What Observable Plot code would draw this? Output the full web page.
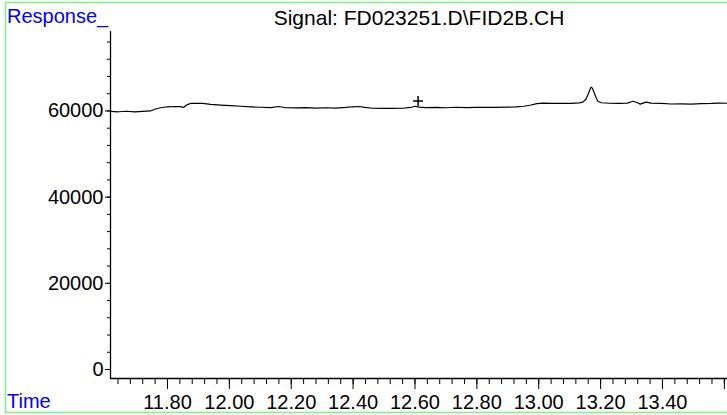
<!DOCTYPE html>
<html>
<head>
<meta charset="utf-8">
<script src="https://cdn.jsdelivr.net/npm/d3@7"></script>
<script src="https://cdn.jsdelivr.net/npm/@observablehq/plot@0.6"></script>
<style>
  html, body { margin: 0; padding: 0; background: #fff; }
  svg { display: block; }
</style>
</head>
<body>
<div id="chart"></div>
<script>
// Retention time (min)
const time = [
  11.616, 11.642, 11.668, 11.694, 11.719, 11.745, 11.761, 11.777, 11.800, 11.823,
  11.843, 11.852, 11.862, 11.875, 11.894, 11.914, 11.940, 11.972, 12.004, 12.037,
  12.069, 12.101, 12.134, 12.160, 12.182, 12.215, 12.247, 12.279, 12.312, 12.344,
  12.376, 12.399, 12.418, 12.438, 12.463, 12.496, 12.528, 12.561, 12.587, 12.600,
  12.613, 12.635, 12.668, 12.700, 12.732, 12.765, 12.797, 12.829, 12.862, 12.894,
  12.926, 12.952, 12.975, 12.994, 13.014, 13.040, 13.072, 13.105, 13.131, 13.144,
  13.153, 13.160, 13.166, 13.169, 13.173, 13.179, 13.186, 13.192, 13.202, 13.228,
  13.260, 13.286, 13.305, 13.318, 13.328, 13.347, 13.363, 13.396, 13.428, 13.460,
  13.493, 13.525, 13.557, 13.583, 13.610
];
// FID response
const response = [
  59880, 59810, 59930, 59790, 59910, 60000, 60460, 60740, 60970, 61040,
  61000, 60810, 61390, 61760, 61790, 61740, 61510, 61370, 61230, 61090,
  60950, 60860, 60770, 61040, 60740, 60700, 60770, 60680, 60740, 60680,
  60810, 60970, 61040, 60810, 60630, 60580, 60600, 60630, 60810, 61090,
  60900, 60770, 60810, 60740, 60860, 60770, 60810, 60860, 60810, 60900,
  60930, 61090, 61390, 61690, 61810, 61760, 61790, 61740, 61880, 62090,
  62780, 63940, 65100, 65500, 65340, 64290, 63020, 62200, 61900, 61790,
  61740, 61830, 62250, 61970, 61580, 62060, 61830, 61740, 61620, 61650,
  61600, 61690, 61740, 61830, 61790
];
// Integration marker
const markerTime = [12.610];
const markerValue = [62320];

const xMajorTicks = [11.8, 12.0, 12.2, 12.4, 12.6, 12.8, 13.0, 13.2, 13.4, 13.6];
const xTickLabels = ["11.80", "12.00", "12.20", "12.40", "12.60", "12.80", "13.00", "13.20", "13.40", ""];
const xMinorTicks = d3.range(0, 50).map(i => +(11.64 + i * 0.04).toFixed(2));
const yMajorTicks = [0, 20000, 40000, 60000];
const yMinorTicks = d3.range(0, 20).map(i => i * 4000);

const xDomain = [11.6158, 13.6102];
const yDomain = [-2090, 78440];

const data = time.map((t, i) => ({t, v: response[i]}));
const markers = markerTime.map((t, i) => ({t, v: markerValue[i]}));

const font = "'Liberation Sans', Arial, Helvetica, sans-serif";

const chart = Plot.plot({
  width: 727,
  height: 415,
  marginLeft: 110,
  marginRight: 0,
  marginTop: 31,
  marginBottom: 37,
  style: {fontFamily: font, fontSize: "20px", background: "#fff", overflow: "visible"},
  x: {domain: xDomain, range: [110, 727]},
  y: {domain: yDomain},
  marks: [
    Plot.axisY(yMinorTicks, {tickSize: 3, tickFormat: () => "", label: null, stroke: "#000"}),
    Plot.axisY(yMajorTicks, {tickSize: 5, tickPadding: 2, tickFormat: d => String(d), label: null, fontSize: 20, fill: "#000", stroke: "#000"}),
    Plot.axisX(xMinorTicks, {tickSize: 6, tickFormat: () => "", label: null, stroke: "#000"}),
    Plot.axisX(xMajorTicks, {tickSize: 11, tickPadding: 5, tickFormat: (d, i) => xTickLabels[i], label: null, fontSize: 20, fill: "#000", stroke: "#000"}),
    Plot.ruleX([xDomain[0]], {stroke: "#000", strokeWidth: 1.3}),
    Plot.ruleY([yDomain[0]], {stroke: "#000", strokeWidth: 1.3}),
    Plot.line(data, {x: "t", y: "v", stroke: "#000", strokeWidth: 1.2}),
    Plot.dot(markers, {x: "t", y: "v", symbol: "plus", r: 3.3, stroke: "#000", strokeWidth: 1.5})
  ]
});

const svg = d3.select(chart);
svg.insert("rect", ":first-child")
  .attr("x", 5.5).attr("y", 2.5).attr("width", 740).attr("height", 410)
  .attr("fill", "none").attr("stroke", "#88ee88").attr("stroke-width", 1.6);
svg.append("text").attr("x", 7).attr("y", 23).attr("text-anchor", "start")
  .attr("fill", "#0000ff").attr("font-size", 20).attr("font-family", font).text("Response_");
svg.append("text").attr("x", 7).attr("y", 408).attr("text-anchor", "start")
  .attr("fill", "#0000ff").attr("font-size", 20).attr("font-family", font).text("Time");
svg.append("text").attr("x", 419).attr("y", 25).attr("text-anchor", "middle")
  .attr("fill", "#000").attr("font-size", 21).attr("font-family", font).text("Signal: FD023251.D\\FID2B.CH");

document.getElementById("chart").appendChild(chart);
</script>
</body>
</html>
